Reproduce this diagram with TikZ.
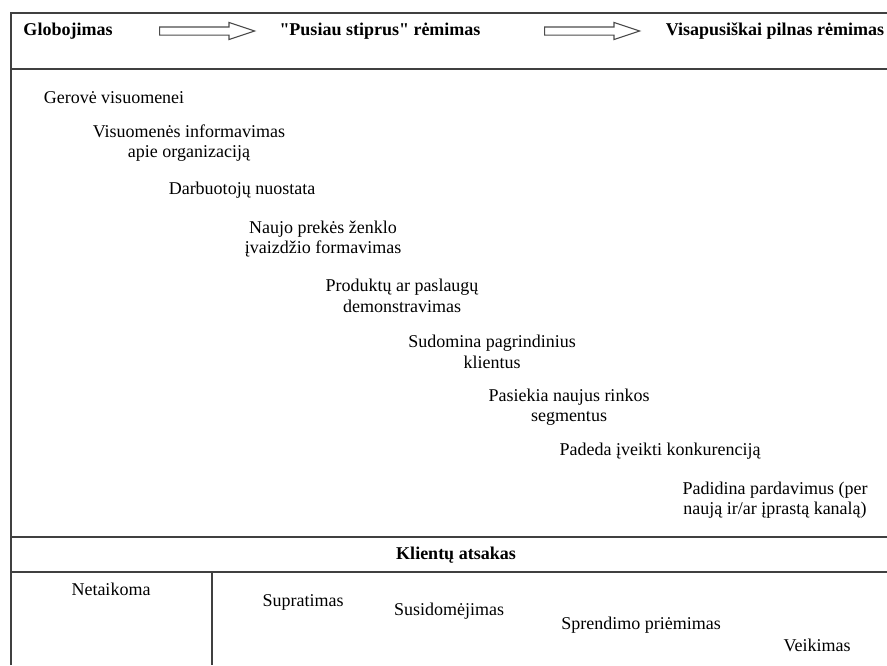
\documentclass[tikz,border=0pt]{standalone}
\usepackage{fontspec}
\setmainfont{Liberation Serif}
\usetikzlibrary{shapes.arrows}
\newcommand\straightq{\XeTeXglyph\XeTeXcharglyph"0022\relax}

\begin{document}
\begin{tikzpicture}[
    x=1pt, y=-1pt,
    every node/.style={font=\fontsize{18}{20.5}\selectfont, inner sep=0pt, align=center},
    phase/.style={font=\fontsize{18}{20.5}\selectfont\bfseries},
    rule/.style={draw=black!75, line width=1.6pt},
    fatarrow/.style={single arrow, draw=black!70, line width=1.1pt, inner xsep=0pt, inner ysep=3.5pt, minimum width=16pt, minimum height=95pt, single arrow head extend=4.5pt, single arrow tip angle=37},
]
    \useasboundingbox (0,0) rectangle (887,665);
    \draw[rule] (11,665) -- (11,13) -- (887,13);
    \draw[rule] (11,69) -- (887,69);
    \draw[rule] (11,537) -- (887,537);
    \draw[rule] (11,572) -- (887,572);
    \draw[rule] (212,572) -- (212,665);

    \node[phase] (glob) at (68,31) {Globojimas};
    \node[phase] (pusiau) at (380,31) {\straightq Pusiau stiprus\straightq{} rėmimas};
    \node[phase] (visap) at (775,31) {Visapusiškai pilnas rėmimas};
    \node[fatarrow] (arr1) at (201,31) {};
    \node[fatarrow] (arr2) at (586,31) {};

    \node (gerove) at (114,98) {Gerovė visuomenei};
    \node (inform) at (189,143) {Visuomenės informavimas\\apie organizaciją};
    \node (darb) at (242,190) {Darbuotojų nuostata};
    \node (zenkl) at (323,239) {Naujo prekės ženklo\\įvaizdžio formavimas};
    \node (demo) at (402,296) {Produktų ar paslaugų\\demonstravimas};
    \node (sudom) at (492,352) {Sudomina pagrindinius\\klientus};
    \node (segm) at (569,407) {Pasiekia naujus rinkos\\segmentus};
    \node (konk) at (660,451) {Padeda įveikti konkurenciją};
    \node (pard) at (775,500) {Padidina pardavimus (per\\naują ir/ar įprastą kanalą)};

    \node[phase] (atsak) at (456,555) {Klientų atsakas};
    \node (netaik) at (111,589) {Netaikoma};
    \node (suprat) at (303,602) {Supratimas};
    \node (susid) at (449,611) {Susidomėjimas};
    \node (sprend) at (641,625) {Sprendimo priėmimas};
    \node (veik) at (817,645) {Veikimas};
\end{tikzpicture}
\end{document}
